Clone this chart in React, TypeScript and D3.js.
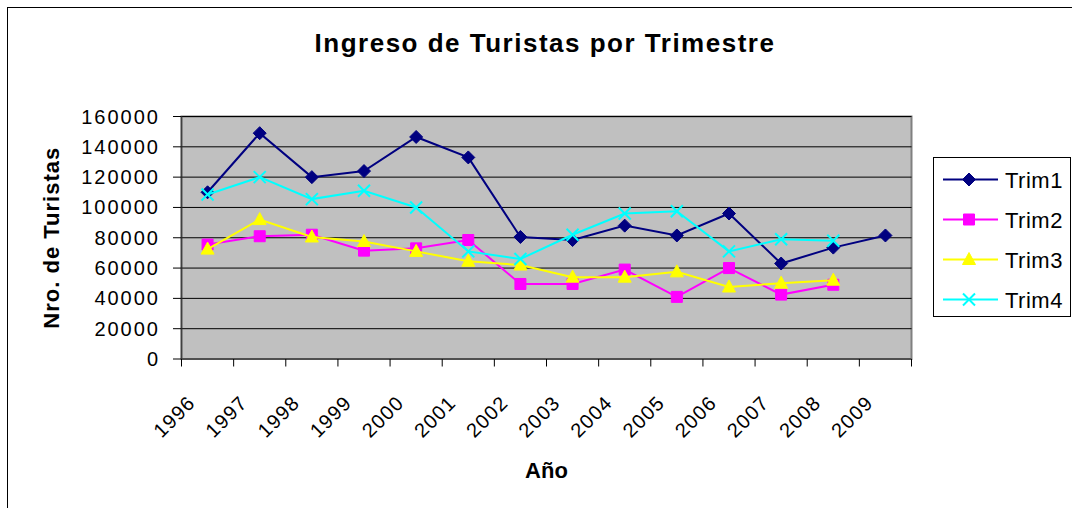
import * as d3 from 'd3';
import React, { RefObject, Component } from 'react';

const years: string[] = ['1996', '1997', '1998', '1999', '2000', '2001', '2002', '2003', '2004', '2005', '2006', '2007', '2008', '2009'];
const trim1: number[] = [110000, 149000, 120000, 124000, 146500, 133000, 80500, 78500, 88000, 81500, 96000, 63000, 73500, 81500];
const trim2: number[] = [75500, 81000, 82000, 71500, 73000, 78500, 49500, 49500, 59000, 41000, 60000, 42500, 49000];
const trim3: number[] = [72500, 92000, 80500, 77500, 71000, 64500, 62000, 54000, 54000, 57500, 47500, 50000, 52000];
const trim4: number[] = [108500, 120000, 105500, 111000, 100000, 71000, 66000, 82000, 96000, 97500, 71000, 79000, 78000];
const seriesNames: string[] = ['Trim1', 'Trim2', 'Trim3', 'Trim4'];
const yTicks: number[] = [0, 20000, 40000, 60000, 80000, 100000, 120000, 140000, 160000];

interface Series {
    name: string;
    values: number[];
    color: string;
    marker: string;
}

const FONT = '"Liberation Sans", Arial, sans-serif';

// marker paths centered on 0,0
function markerPath(kind: string): string {
    if (kind === 'diamond') return 'M0,-6.5L6.5,0L0,6.5L-6.5,0Z';
    if (kind === 'square') return 'M-5.5,-5.5H5.5V5.5H-5.5Z';
    if (kind === 'triangle') return 'M0,-7L6.5,5L-6.5,5Z';
    return 'M-6,-6L6,6M6,-6L-6,6';
}

export default class App extends Component<{}> {
    private ref: RefObject<SVGGElement>;

    constructor(props: {}) {
        super(props);
        this.ref = React.createRef();
    }

    componentDidMount() {
        this.init();
    }

    init() {
        const left = 181.5, right = 911.5, top = 116.5, bottom = 359;
        const node = this.ref.current;
        const g = d3.select(node);
        g.selectAll('*').remove();

        const series: Series[] = [
            { name: seriesNames[0], values: trim1, color: '#000080', marker: 'diamond' },
            { name: seriesNames[1], values: trim2, color: '#FF00FF', marker: 'square' },
            { name: seriesNames[2], values: trim3, color: '#FFFF00', marker: 'triangle' },
            { name: seriesNames[3], values: trim4, color: '#00FFFF', marker: 'x' },
        ];

        const x = d3.scaleBand<string>().domain(years).range([left, right]);
        const cx = (yr: string) => (x(yr) as number) + x.bandwidth() / 2;
        const y = d3.scaleLinear().domain([0, 160000]).range([bottom, top]);

        // chart border
        g.append('rect')
            .attr('x', 7.5).attr('y', 7.5)
            .attr('width', 1200).attr('height', 600)
            .attr('fill', 'white').attr('stroke', 'black').attr('stroke-width', 1);

        // title
        g.append('text')
            .attr('x', 545).attr('y', 52)
            .attr('text-anchor', 'middle')
            .style('font-family', FONT).style('font-size', '26px').style('font-weight', 'bold')
            .style('letter-spacing', '1.5px')
            .text('Ingreso de Turistas por Trimestre');

        // plot area
        g.append('rect')
            .attr('x', left).attr('y', top)
            .attr('width', right - left).attr('height', bottom - top)
            .attr('fill', '#C0C0C0').attr('stroke', '#808080').attr('stroke-width', 2);

        g.selectAll('line.grid')
            .data(yTicks.slice(1))
            .join('line')
            .attr('class', 'grid')
            .attr('x1', left).attr('x2', right)
            .attr('y1', d => y(d)).attr('y2', d => y(d))
            .attr('stroke', 'black').attr('stroke-width', 1);

        // y axis
        g.append('line')
            .attr('x1', left).attr('x2', left).attr('y1', top).attr('y2', bottom)
            .attr('stroke', '#404040').attr('stroke-width', 1.5);
        g.selectAll('line.ytick')
            .data(yTicks)
            .join('line')
            .attr('class', 'ytick')
            .attr('x1', 173).attr('x2', left)
            .attr('y1', d => y(d)).attr('y2', d => y(d))
            .attr('stroke', 'black');
        g.selectAll('text.ylab')
            .data(yTicks)
            .join('text')
            .attr('class', 'ylab')
            .attr('x', 160).attr('y', d => y(d) + 7)
            .attr('text-anchor', 'end')
            .style('font-family', FONT).style('font-size', '20px')
            .style('letter-spacing', '2px')
            .text(d => String(d));

        // x axis
        g.append('line')
            .attr('x1', left).attr('x2', right).attr('y1', bottom).attr('y2', bottom)
            .attr('stroke', '#404040').attr('stroke-width', 1.5);
        const edges = years.map(yr => x(yr) as number).concat([right]);
        g.selectAll('line.xtick')
            .data(edges)
            .join('line')
            .attr('class', 'xtick')
            .attr('x1', d => d).attr('x2', d => d)
            .attr('y1', bottom).attr('y2', bottom + 7.5)
            .attr('stroke', 'black');
        g.selectAll('text.xlab')
            .data(years)
            .join('text')
            .attr('class', 'xlab')
            .attr('transform', d => `translate(${cx(d) - 11},404) rotate(-45)`)
            .attr('text-anchor', 'end')
            .style('font-family', FONT).style('font-size', '20px')
            .style('letter-spacing', '1.2px')
            .text(d => d);

        // axis titles
        g.append('text')
            .attr('x', (left + right) / 2).attr('y', 478)
            .attr('text-anchor', 'middle')
            .style('font-family', FONT).style('font-size', '22px').style('font-weight', 'bold')
            .text('Año');
        g.append('text')
            .attr('transform', `translate(59,${(top + bottom) / 2}) rotate(-90)`)
            .attr('text-anchor', 'middle')
            .style('font-family', FONT).style('font-size', '22px').style('font-weight', 'bold')
            .style('letter-spacing', '1px')
            .text('Nro. de Turistas');

        // series
        const line = d3.line<number>()
            .x((_d, i) => cx(years[i]))
            .y(d => y(d));

        series.forEach(s => {
            g.append('path')
                .attr('d', line(s.values))
                .attr('fill', 'none')
                .attr('stroke', s.color)
                .attr('stroke-width', 2);
            g.selectAll(`path.m-${s.name}`)
                .data(s.values)
                .join('path')
                .attr('class', `m-${s.name}`)
                .attr('transform', (d, i) => `translate(${cx(years[i])},${y(d)})`)
                .attr('d', markerPath(s.marker))
                .attr('fill', s.marker === 'x' ? 'none' : s.color)
                .attr('stroke', s.color)
                .attr('stroke-width', s.marker === 'x' ? 2 : 1);
        });

        // legend
        g.append('rect')
            .attr('x', 933.5).attr('y', 157.5)
            .attr('width', 137).attr('height', 159)
            .attr('fill', 'white').attr('stroke', 'black');
        const rows = g.selectAll('g.leg')
            .data(series)
            .join('g')
            .attr('class', 'leg')
            .attr('transform', (_d, i) => `translate(0,${179.5 + i * 40})`);
        rows.append('line')
            .attr('x1', 943).attr('x2', 998).attr('y1', 0).attr('y2', 0)
            .attr('stroke', d => d.color).attr('stroke-width', 2);
        rows.append('path')
            .attr('transform', 'translate(969,0)')
            .attr('d', d => markerPath(d.marker))
            .attr('fill', d => d.marker === 'x' ? 'none' : d.color)
            .attr('stroke', d => d.color)
            .attr('stroke-width', d => d.marker === 'x' ? 2 : 1);
        rows.append('text')
            .attr('x', 1005).attr('y', 8)
            .style('font-family', FONT).style('font-size', '22px')
            .style('letter-spacing', '0.5px')
            .text(d => d.name);
    }

    render() {
        return (
            <svg
                width={1072}
                height={508}
                style={{ position: 'absolute', left: 0, top: 0 }}
            >
                <g ref={this.ref} />
            </svg>
        );
    }
}
